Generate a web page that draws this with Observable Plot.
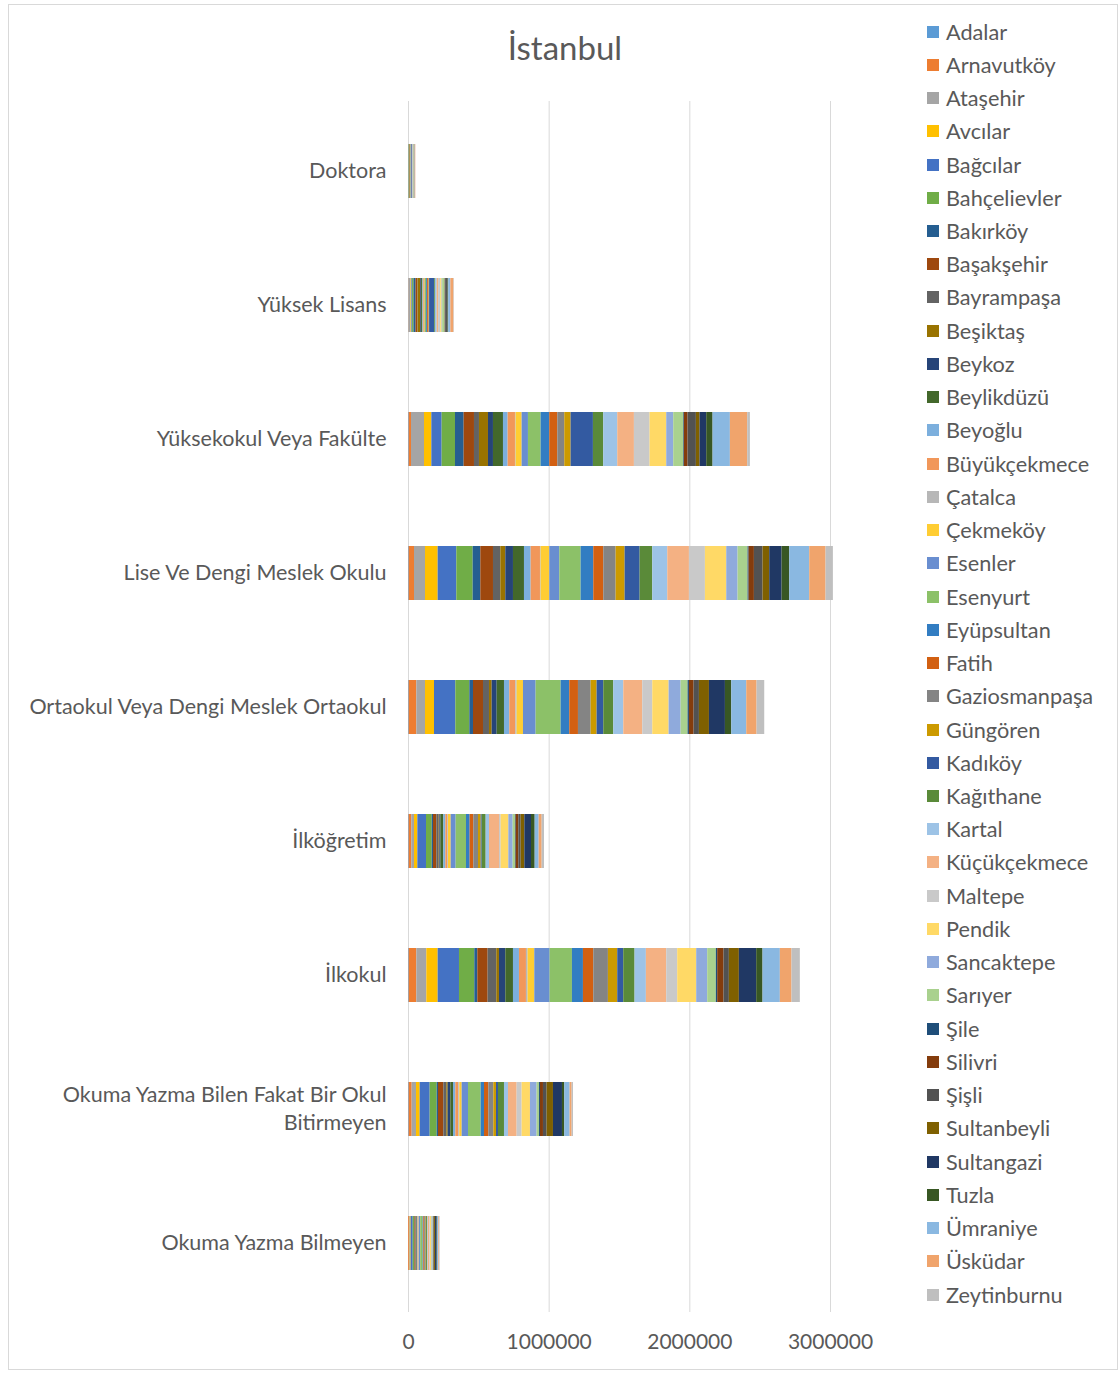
<!DOCTYPE html>
<html>
<head>
<meta charset="utf-8">
<script src="https://cdn.jsdelivr.net/npm/d3@7"></script>
<script src="https://cdn.jsdelivr.net/npm/@observablehq/plot@0.6"></script>
<style>
  html, body { margin: 0; padding: 0; background: #fff; }
  #wrap { position: relative; width: 1120px; height: 1374px; font-family: Lato, "Noto Sans", sans-serif; color: #595959; }
  #frame { position: absolute; left: 8px; top: 4px; width: 1110px; height: 1366px; border: 1px solid #d9d9d9; box-sizing: border-box; }
  #title { position: absolute; left: 0; width: 1130px; top: 27px; text-align: center; font-size: 33px; color: #595959; }
  #chart { position: absolute; left: 0; top: 0; }
  #legend { position: absolute; left: 927px; top: 15px; }
  .item { height: 33.24px; display: flex; align-items: center; font-size: 21.7px; white-space: nowrap; }
  .sw { width: 12px; height: 12px; margin-right: 7px; flex: none; }
</style>
</head>
<body>
<div id="wrap">
  <div id="frame"></div>
  <div id="title">İstanbul</div>
  <div id="chart"></div>
  <div id="legend"></div>
</div>
<script>
const categories = [
  "Doktora",
  "Yüksek Lisans",
  "Yüksekokul Veya Fakülte",
  "Lise Ve Dengi Meslek Okulu",
  "Ortaokul Veya Dengi Meslek Ortaokul",
  "İlköğretim",
  "İlkokul",
  "Okuma Yazma Bilen Fakat Bir Okul Bitirmeyen",
  "Okuma Yazma Bilmeyen"
];

const districts = ["Adalar","Arnavutköy","Ataşehir","Avcılar","Bağcılar","Bahçelievler","Bakırköy","Başakşehir","Bayrampaşa","Beşiktaş","Beykoz","Beylikdüzü","Beyoğlu","Büyükçekmece","Çatalca","Çekmeköy","Esenler","Esenyurt","Eyüpsultan","Fatih","Gaziosmanpaşa","Güngören","Kadıköy","Kağıthane","Kartal","Küçükçekmece","Maltepe","Pendik","Sancaktepe","Sarıyer","Şile","Silivri","Şişli","Sultanbeyli","Sultangazi","Tuzla","Ümraniye","Üsküdar","Zeytinburnu"];

const colors = ["#5B9BD5","#ED7D31","#A5A5A5","#FFC000","#4472C4","#70AD47","#255E91","#9E480E","#636363","#997300","#264478","#43682B","#7CAFDD","#F1975A","#B7B7B7","#FFCD33","#698ED0","#8CC168","#327DC2","#D26012","#848484","#CC9A00","#335AA1","#5A8A39","#9DC3E6","#F4B183","#C9C9C9","#FFD966","#8FAADC","#A9D18E","#1F4E79","#843C0C","#525252","#7F6000","#203864","#385723","#8AB8E1","#F0A46C","#BFBFBF"];

const doktora = [200,300,2500,1000,700,1500,2500,1600,400,4000,1000,1200,700,800,200,800,300,1000,1000,1300,400,400,6000,800,1800,1300,2300,1400,500,3500,200,400,2200,200,400,800,2000,4000,400];
const yuksekLisans = [1000,2000,15000,6000,5000,10000,15000,10000,3000,20000,6000,9000,4000,6000,1000,6000,2000,8000,7000,8000,3000,3000,35000,6000,13000,10000,15000,10000,4000,17000,1000,3000,13000,1000,3000,5000,15000,22000,3000];
const yuksekokul = [4700,16600,92400,52100,73400,94800,61600,73400,35500,64000,35500,71100,33200,52100,4700,42600,45000,90000,61600,56900,49700,45000,158700,73400,99500,118500,111300,118500,49700,71100,4700,26100,59200,26100,47400,45000,123200,123200,19000];
const lise = [4700,37900,78200,90000,132700,116100,54500,90000,52100,35500,54500,78200,47400,66300,4700,61600,71100,151600,90000,71100,87700,64000,106600,90000,106600,154000,113700,151600,80500,71100,7100,37900,61600,47400,87700,54500,142100,116100,52100];
const ortaokul = [4700,54500,61600,64000,151600,99500,26100,71100,42600,19000,35500,52100,37900,42600,9500,45000,90000,177700,61600,61600,90000,42600,47400,71100,71100,135000,71100,116100,85300,49700,9500,33200,37900,71100,113700,45000,106600,73400,54500];
const ilkogretim = [4700,19000,19000,23700,61600,40300,9500,23700,16600,4700,7100,21300,14200,14200,4700,19000,35500,73400,26100,26100,33200,19000,7100,28400,23700,71100,11800,54500,30800,16600,4700,19000,16600,26100,47400,26100,28400,21300,16600];
const ilkokul = [4700,54500,71100,80500,151600,109000,21300,73400,61600,19000,45000,54500,42600,49700,11800,47400,109000,158700,78200,73400,104200,66300,42600,80500,80500,144500,78200,135000,78200,61600,9500,45000,37900,71100,123200,45000,123200,82900,59200];
const okumaYazmaBilen = [4700,21300,30800,26100,71100,49700,9500,37900,21300,9500,19000,19000,16600,21300,7100,16600,45000,90000,23700,30800,35500,19000,14200,42600,28400,61600,35500,59200,47400,16600,7100,21300,26100,45000,64000,16600,37900,14200,9500];
const okumaYazmaBilmeyen = [500,6000,6000,6000,15000,10000,2000,6000,4000,1500,3500,3000,4000,3500,1200,3500,11000,17000,5000,6000,8000,4000,2000,7000,5000,11000,5000,10000,7000,3500,1000,3000,4000,7000,11000,3000,8000,5000,5000];

const xTicks = [0, 1000000, 2000000, 3000000];

const seriesByCategory = [doktora, yuksekLisans, yuksekokul, lise, ortaokul, ilkogretim, ilkokul, okumaYazmaBilen, okumaYazmaBilmeyen];

const rows = [];
categories.forEach((c, ci) => {
  districts.forEach((d, di) => {
    rows.push({category: c, district: d, value: seriesByCategory[ci][di]});
  });
});

const wrapLabel = d => d === "Okuma Yazma Bilen Fakat Bir Okul Bitirmeyen" ? "Okuma Yazma Bilen Fakat Bir Okul\nBitirmeyen" : d;

const chart = Plot.plot({
  width: 900,
  height: 1374,
  marginTop: 101,
  marginBottom: 62,
  marginLeft: 408,
  marginRight: 70,
  style: {fontFamily: "Lato, 'Noto Sans', sans-serif", fontSize: "21px", color: "#595959", background: "transparent", overflow: "visible"},
  x: {domain: [0, 3000000], label: null},
  y: {domain: categories, paddingInner: 0.6, paddingOuter: 0.3, label: null},
  color: {domain: districts, range: colors},
  marks: [
    Plot.gridX({ticks: xTicks, stroke: "#d9d9d9", strokeOpacity: 1, strokeWidth: 1}),
    Plot.barX(rows, Plot.stackX({x: "value", y: "category", fill: "district"})),
    Plot.axisX({ticks: xTicks, tickSize: 0, tickPadding: 22, tickFormat: d3.format("d"), label: null, fill: "#595959", fontSize: 21}),
    Plot.axisY({tickSize: 0, tickPadding: 22, tickFormat: wrapLabel, label: null, fill: "#595959", fontSize: 21.5, lineHeight: 1.3, dy: -2})
  ]
});
document.getElementById("chart").appendChild(chart);

const legend = document.getElementById("legend");
districts.forEach((d, i) => {
  const item = document.createElement("div");
  item.className = "item";
  const sw = document.createElement("span");
  sw.className = "sw";
  sw.style.background = colors[i];
  const tx = document.createElement("span");
  tx.textContent = d;
  item.appendChild(sw);
  item.appendChild(tx);
  legend.appendChild(item);
});
</script>
</body>
</html>
